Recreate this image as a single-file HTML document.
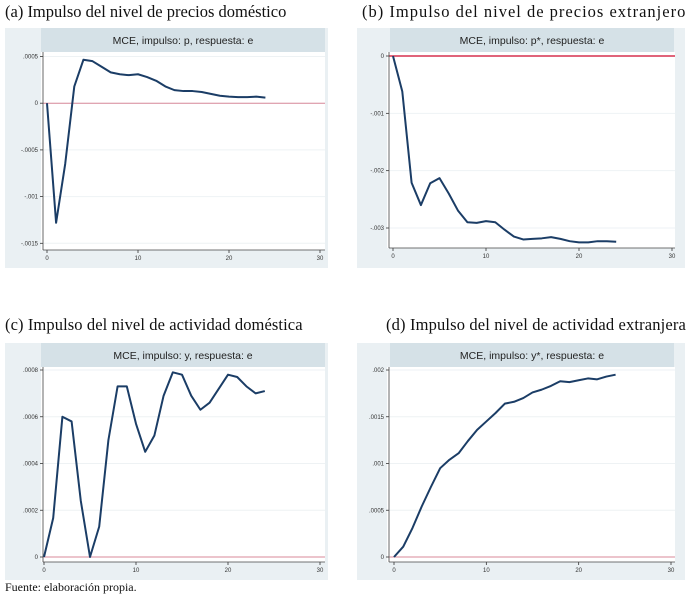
<!DOCTYPE html>
<html><head><meta charset="utf-8"><style>
body{margin:0;background:#fff;width:691px;height:586px;overflow:hidden;font-family:"Liberation Sans",sans-serif}
.pt{position:absolute;font-family:"Liberation Serif",serif;font-size:16.5px;color:#111;white-space:nowrap}
</style></head><body>
<div class="pt" style="left:5px;top:2px">(a) Impulso del nivel de precios doméstico</div>
<div class="pt" style="left:362px;top:2px;letter-spacing:1px">(b) Impulso del nivel de precios extranjero</div>
<div class="pt" style="left:5px;top:315px;letter-spacing:0.1px">(c) Impulso del nivel de actividad doméstica</div>
<div class="pt" style="left:386px;top:315px;letter-spacing:0.15px">(d) Impulso del nivel de actividad extranjera</div>
<div class="pt" style="left:5px;top:580px;font-size:12px">Fuente: elaboración propia.</div>
<svg id="chart" width="691" height="586" style="position:absolute;left:0;top:0"></svg>
<script>
const periods=[0,1,2,3,4,5,6,7,8,9,10,11,12,13,14,15,16,17,18,19,20,21,22,23,24];
const seriesA=[0,-0.00128,-0.00065,0.00018,0.000465,0.00045,0.00039,0.00033,0.00031,0.0003,0.00031,0.00028,0.00024,0.00018,0.00014,0.00013,0.00013,0.00012,0.0001,0.00008,0.00007,0.000065,0.000065,0.00007,0.00006];
const seriesB=[0,-0.00062,-0.00221,-0.0026,-0.00222,-0.00213,-0.0024,-0.0027,-0.0029,-0.00291,-0.00288,-0.0029,-0.00303,-0.00315,-0.0032,-0.00319,-0.00318,-0.00316,-0.00319,-0.00323,-0.00325,-0.00325,-0.00323,-0.00323,-0.00324];
const seriesC=[0,0.000167,0.0006,0.00058,0.00024,0,0.00013,0.0005,0.00073,0.00073,0.00057,0.00045,0.00052,0.00069,0.00079,0.00078,0.00069,0.00063,0.00066,0.00072,0.00078,0.00077,0.00073,0.0007,0.00071];
const seriesD=[0,0.00011,0.00031,0.00054,0.00075,0.00095,0.00104,0.00111,0.00124,0.00136,0.00145,0.00154,0.00164,0.00166,0.0017,0.00176,0.00179,0.00183,0.00188,0.00187,0.00189,0.00191,0.0019,0.00193,0.00195];
const xTicks=[0,10,20,30];
const ticksA=[0.0005,0,-0.0005,-0.001,-0.0015];
const tickLabelsA=[".0005","0","-.0005","-.001","-.0015"];
const ticksB=[0,-0.001,-0.002,-0.003];
const tickLabelsB=["0","-.001","-.002","-.003"];
const ticksC=[0.0008,0.0006,0.0004,0.0002,0];
const tickLabelsC=[".0008",".0006",".0004",".0002","0"];
const ticksD=[0.002,0.0015,0.001,0.0005,0];
const tickLabelsD=[".002",".0015",".001",".0005","0"];
const subtitles=["MCE, impulso: p, respuesta: e","MCE, impulso: p*, respuesta: e","MCE, impulso: y, respuesta: e","MCE, impulso: y*, respuesta: e"];

const svg=document.getElementById('chart');
const NS='http://www.w3.org/2000/svg';
function mk(tag,attrs,parent){const e=document.createElementNS(NS,tag);for(const k in attrs)e.setAttribute(k,attrs[k]);(parent||svg).appendChild(e);return e;}
const panels=[
 {key:'a',bx:5,by:28,bw:323,bh:240,tx:41,tw:284,ax:43,ay:250,px1:325,x0:47,x30:320,v1:0.0005,p1:56.5,v2:-0.0015,p2:243.3,data:seriesA,ticks:ticksA,labels:tickLabelsA,zero:'#d9899a',zw:1},
 {key:'b',bx:357,by:28,bw:328,bh:240,tx:390,tw:284,ax:389,ay:248,px1:675,x0:393,x30:672,v1:0,p1:56,v2:-0.003,p2:228,data:seriesB,ticks:ticksB,labels:tickLabelsB,zero:'#d6304e',zw:1.6},
 {key:'c',bx:5,by:343,bw:323,bh:237,tx:41,tw:284,ax:43,ay:562,px1:325,x0:44,x30:320,v1:0.0008,p1:370,v2:0,p2:557,data:seriesC,ticks:ticksC,labels:tickLabelsC,zero:'#d9899a',zw:1},
 {key:'d',bx:357,by:343,bw:328,bh:237,tx:390,tw:284,ax:389,ay:562,px1:675,x0:394,x30:671,v1:0.002,p1:370,v2:0,p2:557,data:seriesD,ticks:ticksD,labels:tickLabelsD,zero:'#d9899a',zw:1}
];
panels.forEach((P,i)=>{
 const g=mk('g',{});
 
 
 const xs=t=>P.x0+(t-0)*(P.x30-P.x0)/30;
 const ys=v=>P.p1+(v-P.v1)*(P.p2-P.p1)/(P.v2-P.v1);
 const bg=mk('rect',{x:P.bx,y:P.by,width:P.bw,height:P.bh,fill:'#eaf0f3'},g);
 
 
 const band=mk('rect',{x:P.tx,y:P.by,width:P.tw,height:24,fill:'#d5e1e7'},g);
 
 
 const st=mk('text',{x:P.tx+P.tw/2,y:P.by+16,'text-anchor':'middle','font-size':'10.5','fill':'#222'},g);
 st.textContent=subtitles[i];
 
 
 mk('rect',{x:P.ax-2,y:P.by+24,width:P.px1-P.ax+2,height:P.ay-P.by-24,fill:'#fff'},g);
 P.ticks.forEach((v,j)=>{
  const y=ys(v);
  mk('line',{x1:P.ax,x2:P.px1,y1:y,y2:y,stroke:'#eef2f4','stroke-width':1},g);
  mk('line',{x1:P.ax-3,x2:P.ax,y1:y,y2:y,stroke:'#333','stroke-width':0.8},g);
  const t=mk('text',{x:P.ax-5,y:y+2,'text-anchor':'end','font-size':'6','fill':'#333'},g);
  t.textContent=P.labels[j];
  
  
 });
 xTicks.forEach(v=>{
  const x=xs(v);
  mk('line',{x1:x,x2:x,y1:P.ay,y2:P.ay+3,stroke:'#333','stroke-width':0.8},g);
  const t=mk('text',{x:x,y:P.ay+10,'text-anchor':'middle','font-size':'6','fill':'#333'},g);
  t.textContent=String(v);
  
  
 });
 const zl=mk('line',{x1:P.ax,x2:P.px1,y1:ys(0),y2:ys(0),stroke:P.zero,'stroke-width':P.zw},g);
 
 
 mk('line',{x1:P.ax,x2:P.ax,y1:P.by+24,y2:P.ay,stroke:'#444','stroke-width':0.8},g);
 mk('line',{x1:P.ax,x2:P.px1,y1:P.ay,y2:P.ay,stroke:'#444','stroke-width':0.8},g);
 const pts=P.data.map((v,k)=>xs(periods[k]).toFixed(2)+','+ys(v).toFixed(2)).join(' ');
 const pl=mk('polyline',{points:pts,fill:'none',stroke:'#1b3d66','stroke-width':2,'stroke-linejoin':'round'},g);
 
 
});
</script>
</body></html>
